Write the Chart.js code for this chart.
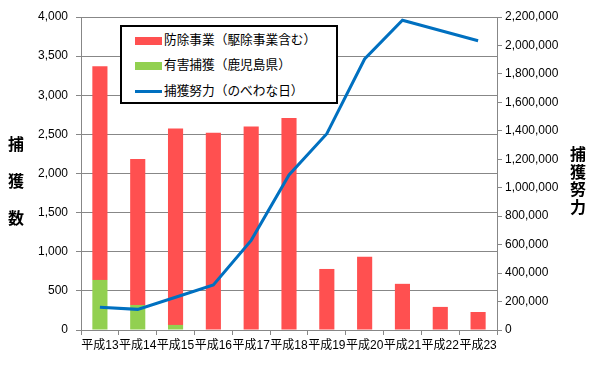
<!DOCTYPE html>
<html><head><meta charset="utf-8">
<script src="https://cdn.jsdelivr.net/npm/chart.js@4/dist/chart.umd.min.js"></script>
<style>
html,body{margin:0;padding:0;background:#fff;}
#wrap{position:relative;width:600px;height:365px;overflow:hidden;font-family:'Liberation Sans','Noto Sans CJK JP',sans-serif;}
canvas{position:absolute;left:0;top:0;}
#legend{position:absolute;left:120px;top:25px;width:214px;height:75px;border:2px solid #000;background:#fff;}
.li{position:absolute;left:13px;height:16px;font-size:12.7px;line-height:16px;white-space:nowrap;color:#000;}
.sw{display:inline-block;width:27px;vertical-align:middle;margin-right:2px;}
.tl{position:absolute;font-weight:bold;font-size:16px;color:#000;font-family:'Noto Sans CJK JP',sans-serif;text-align:center;}
</style></head><body>
<div id="wrap">
<canvas id="c" width="600" height="365"></canvas>
<div id="legend"></div>
<div class="tl" style="left:6px;top:125px;width:20px;line-height:37px;">捕<br>獲<br>数</div>
<div class="tl" style="left:568px;top:145px;width:20px;line-height:17.5px;">捕<br>獲<br>努<br>力</div>
</div>
<script>
const categories = ['平成13','平成14','平成15','平成16','平成17','平成18','平成19','平成20','平成21','平成22','平成23'];
const seriesNames = ['防除事業（駆除事業含む）','有害捕獲（鹿児島県）','捕獲努力（のべわな日）'];
const controlCatch = [2730,1865,2510,2520,2600,2710,780,935,590,295,230];
const harmfulCatch = [640,320,65,0,0,0,0,0,0,0,0];
const trapDays = [160000,145000,230000,316000,630000,1090000,1380000,1905000,2177000,2105000,2033000];
const leftTicks = [0,500,1000,1500,2000,2500,3000,3500,4000];
const rightTicks = [0,200000,400000,600000,800000,1000000,1200000,1400000,1600000,1800000,2000000,2200000];

const RED='#FF5050', GREEN='#92D050', BLUE='#0070C0', GRID='#878787';

// HTML legend
const lg = document.getElementById('legend');
const items = [
  {name:seriesNames[0], sw:'height:8px;background:'+RED, top:5},
  {name:seriesNames[1], sw:'height:8px;background:'+GREEN, top:30},
  {name:seriesNames[2], sw:'height:3px;background:'+BLUE, top:56}
];
items.forEach(it=>{
  const d=document.createElement('div'); d.className='li'; d.style.top=it.top+'px';
  d.innerHTML='<span class="sw" style="'+it.sw+'"></span>'+it.name;
  lg.appendChild(d);
});

Chart.defaults.font.family = "'Liberation Sans','Noto Sans CJK JP',sans-serif";
Chart.defaults.font.size = 12;
Chart.defaults.color = '#000';

new Chart(document.getElementById('c'), {
  data: {
    labels: categories,
    datasets: [
      {type:'line', label:seriesNames[2], data:trapDays, yAxisID:'y1', borderColor:BLUE, borderWidth:3, pointRadius:0, tension:0, fill:false},
      {type:'bar', label:seriesNames[1], data:harmfulCatch, yAxisID:'y', backgroundColor:GREEN, barPercentage:0.4, categoryPercentage:1, stack:'s'},
      {type:'bar', label:seriesNames[0], data:controlCatch, yAxisID:'y', backgroundColor:RED, barPercentage:0.4, categoryPercentage:1, stack:'s'}
    ]
  },
  options: {
    responsive:false, animation:false, devicePixelRatio:1,
    layout:{padding:{top:17,left:0,right:0,bottom:0}},
    plugins:{legend:{display:false}, tooltip:{enabled:false}},
    scales:{
      x:{stacked:true, grid:{offset:true, drawOnChartArea:false, tickLength:5, color:GRID}, border:{color:GRID},
         ticks:{autoSkip:false, maxRotation:0, padding:3, font:{size:12}},
         afterFit:s=>{s.height=35;}},
      y:{position:'left', stacked:true, min:0, max:4000,
         afterBuildTicks:s=>{s.ticks=leftTicks.map(v=>({value:v}));},
         grid:{color:GRID, tickLength:5}, border:{color:GRID},
         ticks:{padding:8, callback:v=>v.toLocaleString('en-US'), font:{size:12}},
         afterFit:s=>{s.width=81;}},
      y1:{position:'right', min:0, max:2200000,
         afterBuildTicks:s=>{s.ticks=rightTicks.map(v=>({value:v}));},
         grid:{drawOnChartArea:false, color:GRID, tickLength:5}, border:{color:GRID},
         ticks:{padding:3, callback:v=>v.toLocaleString('en-US'), font:{size:12}},
         afterFit:s=>{s.width=103;}}
    }
  }
});
</script>
</body></html>
